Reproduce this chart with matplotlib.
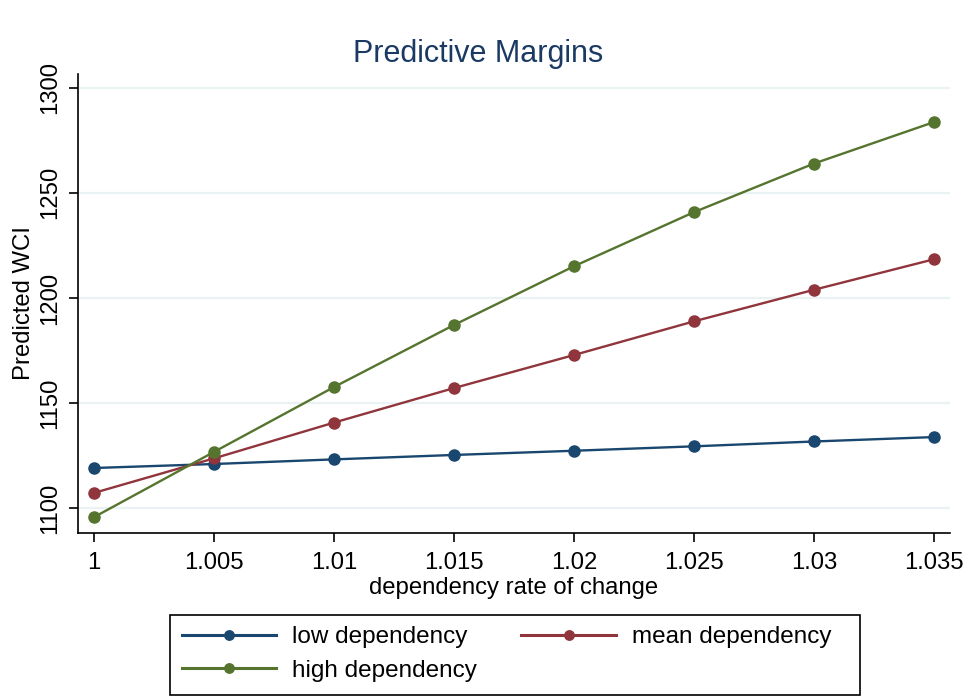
import matplotlib.pyplot as plt
from matplotlib.patches import Rectangle
plt.rcParams['font.family'] = ['Liberation Sans', 'DejaVu Sans']

# values
rate = [1.0, 1.005, 1.01, 1.015, 1.02, 1.025, 1.03, 1.035]
low_dep = [1119.2, 1121.1, 1123.3, 1125.4, 1127.4, 1129.5, 1131.8, 1133.9]
mean_dep = [1107.4, 1123.8, 1140.8, 1157.2, 1172.9, 1188.9, 1203.9, 1218.4]
high_dep = [1095.9, 1126.9, 1157.7, 1187.2, 1215.1, 1240.8, 1263.9, 1283.6]
xticks = [1.0, 1.005, 1.01, 1.015, 1.02, 1.025, 1.03, 1.035]
xticklabels = ['1', '1.005', '1.01', '1.015', '1.02', '1.025', '1.03', '1.035']
yticks = [1100, 1150, 1200, 1250, 1300]

navy = '#1a476f'
maroon = '#90353b'
green = '#55752f'

W, H = 968, 696
fig = plt.figure(figsize=(W / 100, H / 100), dpi=100)
ax = fig.add_axes([77.7 / W, 1 - 533 / H, (950 - 77.7) / W, (533 - 73.8) / H])

lines = {}
for ys, col, lab in [(low_dep, navy, 'low dependency'),
                     (mean_dep, maroon, 'mean dependency'),
                     (high_dep, green, 'high dependency')]:
    lines[lab], = ax.plot(rate, ys, color=col, lw=1.7, marker='o', ms=8, label=lab)

ax.set_xlim(0.99931, 1.03568)
ax.set_ylim(1088.3, 1306.6)
ax.set_xticks(xticks)
ax.set_xticklabels(xticklabels)
ax.set_yticks(yticks)
ax.grid(axis='y', color='#eaf2f3', lw=1.6)
ax.set_axisbelow(True)

for s in ['top', 'right']:
    ax.spines[s].set_visible(False)
for s in ['left', 'bottom']:
    ax.spines[s].set_linewidth(1.2)

ax.tick_params(axis='both', length=6.7, width=1.2, labelsize=17.2, pad=7)
ax.tick_params(axis='y', pad=5)
for t in ax.get_yticklabels():
    t.set_rotation(90)
    t.set_va('center')

fig.text(477.7 / W, 1 - 61.7 / H, 'Predictive Margins', fontsize=22,
         color='#1a3a64', ha='center', va='baseline')
ax.set_xlabel('dependency rate of change', fontsize=17.2, labelpad=2)
ax.set_ylabel('Predicted WCI', fontsize=17.2, labelpad=3)

# legend: row-wise order low, mean / high
order = ['low dependency', 'high dependency', 'mean dependency']
leg = fig.legend([lines[k] for k in order], order, loc='upper left',
                 bbox_to_anchor=(181.5 / W, 1 - 626 / H), ncol=2,
                 fontsize=17.5, markerscale=0.85, handlelength=3.88,
                 handletextpad=0.66, columnspacing=1.84, labelspacing=0.49,
                 borderpad=0, borderaxespad=0, frameon=False)
for ln in leg.get_lines():
    ln.set_linewidth(2.2)
fig.add_artist(Rectangle((170 / W, 1 - 695 / H), 690 / W, 80 / H,
                         transform=fig.transFigure, fill=False,
                         edgecolor='black', lw=1.2))

fig.savefig('out.png', dpi=100)
